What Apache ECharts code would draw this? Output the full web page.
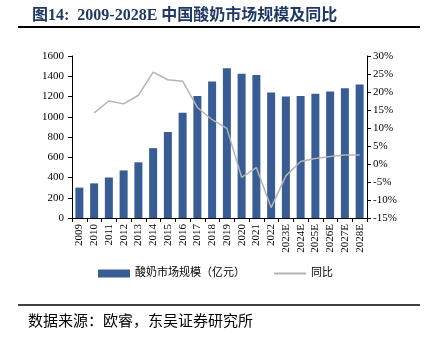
<!DOCTYPE html>
<html><head><meta charset="utf-8">
<script src="https://cdn.jsdelivr.net/npm/echarts@6/dist/echarts.min.js"></script>
<style>html,body{margin:0;padding:0;background:#fff}#c{width:431px;height:342px}</style>
</head><body><div id="c"></div>
<script>
const categories = ['2009','2010','2011','2012','2013','2014','2015','2016','2017','2018','2019','2020','2021','2022','2023E','2024E','2025E','2026E','2027E','2028E'];
const marketSize = [300,342,400,470,550,690,850,1040,1205,1348,1478,1425,1412,1240,1200,1205,1228,1250,1282,1318];
const yoy = [null,14.2,17.5,16.7,19.1,25.5,23.4,23.0,15.7,12.3,9.9,-3.7,-1.0,-12.1,-3.3,0.7,1.5,2.1,2.5,2.5];
const leftTicks = [0,1600,200];
const rightTicks = [-15,30,5];

const serif = "'Liberation Serif','Times New Roman','Noto Sans CJK SC',serif";
const chart = echarts.init(document.getElementById('c'));
chart.setOption({
  animation:false,
  backgroundColor:'#fff',
  title:{text:'图14:  2009-2028E 中国酸奶市场规模及同比',left:27,top:3,
    textStyle:{fontFamily:serif,fontSize:16,fontWeight:'bold',color:'#1f3864'}},
  graphic:[
    {type:'line',shape:{x1:18,y1:27,x2:420,y2:27},style:{stroke:'#000',lineWidth:2}},
    {type:'line',shape:{x1:18,y1:305,x2:420,y2:305},style:{stroke:'#000',lineWidth:1.5}},
    {type:'text',left:28,top:313,style:{text:'数据来源：欧睿，东吴证券研究所',font:"15px 'Noto Sans CJK SC'",fill:'#000'}}
  ],
  legend:{bottom:58,left:'center',itemGap:28,itemWidth:32,itemHeight:8,
    textStyle:{fontFamily:serif,fontSize:11,color:'#000'},
    data:[{name:'酸奶市场规模（亿元）',icon:'rect'},{name:'同比',itemStyle:{opacity:0}}]},
  grid:{left:72,right:64,top:56,bottom:124},
  xAxis:{type:'category',data:categories,
    axisLine:{lineStyle:{color:'#000'}},
    axisTick:{show:true,length:4,lineStyle:{color:'#000'}},
    axisLabel:{rotate:90,fontFamily:serif,fontSize:11,color:'#000',margin:6,interval:0}},
  yAxis:[
    {type:'value',min:leftTicks[0],max:leftTicks[1],interval:leftTicks[2],
      splitLine:{show:false},
      axisLine:{show:true,lineStyle:{color:'#000'}},
      axisTick:{show:true,length:4,lineStyle:{color:'#000'}},
      axisLabel:{fontFamily:serif,fontSize:11,color:'#000',margin:8,formatter:v=>String(v)}},
    {type:'value',min:rightTicks[0],max:rightTicks[1],interval:rightTicks[2],
      splitLine:{show:false},
      axisLine:{show:true,lineStyle:{color:'#000'}},
      axisTick:{show:true,length:4,lineStyle:{color:'#000'}},
      axisLabel:{fontFamily:serif,fontSize:11,color:'#000',margin:6,formatter:'{value}%'}}
  ],
  series:[
    {name:'酸奶市场规模（亿元）',type:'bar',data:marketSize,barWidth:8,
      itemStyle:{color:'#375d94'}},
    {name:'同比',type:'line',yAxisIndex:1,data:yoy,symbol:'none',
      lineStyle:{color:'#b4b4b4',width:1.5},itemStyle:{color:'#b4b4b4'}}
  ]
});
</script></body></html>
